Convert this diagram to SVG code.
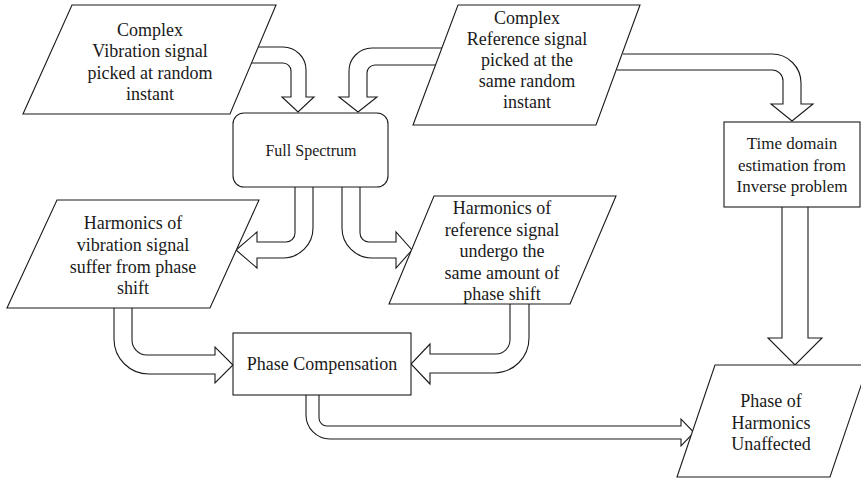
<svg xmlns="http://www.w3.org/2000/svg" width="861" height="478" viewBox="0 0 861 478">
<style>
.shape{fill:#fff;stroke:#1a1a1a;stroke-width:1.1}
.arrow{fill:#fff;stroke:#1a1a1a;stroke-width:1.1;stroke-linejoin:miter}
text{font-family:"Liberation Serif","Times New Roman",serif;font-size:18px;fill:#1a1a1a;text-anchor:middle}
.sm{font-size:16px}
.md{font-size:17px}
</style>
<rect width="861" height="478" fill="#fff"/>
<g id="connectors">
<path class="arrow" d="M258,47 H283 A23 23 0 0 1 306,70 V97 H314 L298,112 L282,97 H291 V71 A8 8 0 0 0 283,63 H251.5"/>
<path class="arrow" d="M442,48 H372 A23 23 0 0 0 349,71 V97 H339 L358,112 L377,97 H367 V73 A8 8 0 0 1 375,65 H436"/>
<path class="arrow" d="M623,54 H772 A29 29 0 0 1 801,83 V104 H813 L792,121 L771,104 H783 V81 A11 11 0 0 0 772,70 H617"/>
<path class="arrow" d="M295,187 V233 A9 9 0 0 1 286,242 H257 V232 L236,250 L257,268 V258 H283 A30 30 0 0 0 313,228 V187"/>
<path class="arrow" d="M360,187 V233 A9 9 0 0 0 369,242 H396 V232 L412,250 L396,268 V258 H372 A30 30 0 0 1 342,228 V187"/>
<path class="arrow" d="M132,308 V340 A15 15 0 0 0 147,355 H215 V347 L233,365 L215,383 V374 H149 A35 35 0 0 1 114,339 V308"/>
<path class="arrow" d="M510,304 V340 A14 14 0 0 1 496,354 H430 V344 L411,364 L430,384 V373 H494 A35 35 0 0 0 529,338 V304"/>
<path class="arrow" d="M319,395 V418 A8 8 0 0 0 327,426 H681 V419 L694,432.5 L681,446 V439 H330 A24 24 0 0 1 306,415 V395"/>
<path class="arrow" d="M782,207 V338 H768 L795,365 L822,338 H808 V207"/>
</g>
<g id="node-vibration">
<polygon class="shape" points="72,5 276,5 230,114 23,114"/>
<text x="150" y="36">Complex</text>
<text x="150" y="57">Vibration signal</text>
<text x="150" y="79">picked at random</text>
<text x="150" y="100">instant</text>
</g>
<g id="node-reference">
<polygon class="shape" points="458,5 640,5 596,125 413,125"/>
<text x="527" y="24">Complex</text>
<text x="527" y="45">Reference signal</text>
<text x="527" y="66">picked at the</text>
<text x="527" y="87">same random</text>
<text x="527" y="108">instant</text>
</g>
<g id="node-full-spectrum">
<rect class="shape" x="233" y="113" width="155" height="74" rx="11"/>
<text class="sm" x="311" y="156">Full Spectrum</text>
</g>
<g id="node-time-domain">
<rect class="shape" x="724" y="122" width="136" height="85"/>
<text class="md" x="792" y="149">Time domain</text>
<text class="md" x="792" y="171">estimation from</text>
<text class="md" x="792" y="192">Inverse problem</text>
</g>
<g id="node-harm-vibration">
<polygon class="shape" points="57,200 259,200 210,308 7,308"/>
<text x="133" y="229">Harmonics of</text>
<text x="133" y="251">vibration signal</text>
<text x="133" y="273">suffer from phase</text>
<text x="133" y="294">shift</text>
</g>
<g id="node-harm-reference">
<polygon class="shape" points="434,196 616,196 570,304 389,304"/>
<text x="502" y="214">Harmonics of</text>
<text x="502" y="236">reference signal</text>
<text x="502" y="257">undergo the</text>
<text x="502" y="279">same amount of</text>
<text x="502" y="300">phase shift</text>
</g>
<g id="node-phase-compensation">
<rect class="shape" x="233" y="333" width="178" height="62"/>
<text x="322" y="370">Phase Compensation</text>
</g>
<g id="node-unaffected">
<polygon class="shape" points="715,365 868,365 830,477 677,477"/>
<text x="771" y="407">Phase of</text>
<text x="771" y="429">Harmonics</text>
<text x="771" y="450">Unaffected</text>
</g>
</svg>
